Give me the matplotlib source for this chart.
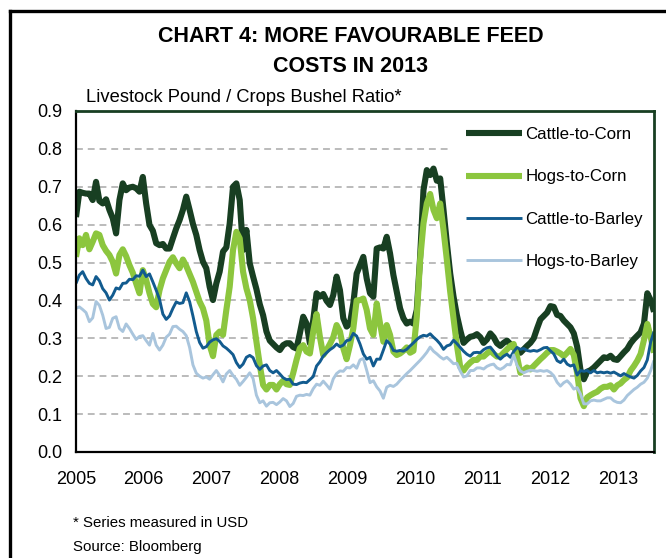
import matplotlib
matplotlib.use('Agg')
import matplotlib.pyplot as plt
import pandas as pd
from matplotlib.patches import Rectangle
from matplotlib.lines import Line2D

plt.rcParams['font.family'] = ['Liberation Sans', 'DejaVu Sans']

# ---------------- data ----------------
dates = pd.date_range('2005-01-01', periods=174, freq='18D')

series_names = ['Cattle-to-Corn', 'Hogs-to-Corn', 'Cattle-to-Barley', 'Hogs-to-Barley']

cattle_corn = [
    0.620, 0.687, 0.684, 0.682, 0.682, 0.665, 0.713, 0.663, 0.656, 0.667,
    0.639, 0.617, 0.577, 0.665, 0.709, 0.691, 0.698, 0.700, 0.696, 0.687,
    0.726, 0.656, 0.599, 0.584, 0.551, 0.546, 0.549, 0.537, 0.537, 0.564,
    0.590, 0.612, 0.639, 0.674, 0.639, 0.602, 0.573, 0.533, 0.502, 0.485,
    0.436, 0.401, 0.445, 0.476, 0.529, 0.540, 0.603, 0.700, 0.709, 0.665,
    0.533, 0.586, 0.498, 0.463, 0.430, 0.390, 0.361, 0.318, 0.294, 0.285,
    0.276, 0.269, 0.282, 0.287, 0.287, 0.277, 0.273, 0.313, 0.357, 0.339,
    0.287, 0.348, 0.419, 0.410, 0.417, 0.399, 0.388, 0.414, 0.463, 0.427,
    0.353, 0.331, 0.339, 0.392, 0.471, 0.493, 0.515, 0.458, 0.419, 0.410,
    0.537, 0.540, 0.537, 0.568, 0.524, 0.467, 0.423, 0.379, 0.353, 0.339,
    0.344, 0.339, 0.375, 0.515, 0.691, 0.744, 0.731, 0.748, 0.716, 0.722,
    0.639, 0.551, 0.471, 0.410, 0.361, 0.322, 0.288, 0.297, 0.304, 0.306,
    0.311, 0.303, 0.288, 0.297, 0.313, 0.303, 0.287, 0.280, 0.288, 0.294,
    0.285, 0.276, 0.267, 0.262, 0.271, 0.280, 0.288, 0.300, 0.326, 0.350,
    0.359, 0.368, 0.385, 0.383, 0.362, 0.359, 0.347, 0.338, 0.329, 0.313,
    0.278, 0.216, 0.192, 0.212, 0.216, 0.223, 0.232, 0.241, 0.250, 0.248,
    0.254, 0.245, 0.243, 0.253, 0.263, 0.272, 0.287, 0.298, 0.307, 0.316,
    0.339, 0.419, 0.401, 0.370,
]

hogs_corn = [
    0.515, 0.564, 0.546, 0.573, 0.535, 0.555, 0.577, 0.573, 0.546, 0.531,
    0.520, 0.502, 0.471, 0.520, 0.535, 0.517, 0.493, 0.473, 0.445, 0.419,
    0.480, 0.454, 0.419, 0.391, 0.382, 0.427, 0.458, 0.480, 0.502, 0.514,
    0.498, 0.485, 0.508, 0.491, 0.470, 0.449, 0.423, 0.397, 0.379, 0.347,
    0.282, 0.253, 0.309, 0.318, 0.309, 0.375, 0.436, 0.533, 0.581, 0.564,
    0.476, 0.432, 0.401, 0.353, 0.291, 0.230, 0.177, 0.165, 0.177, 0.177,
    0.165, 0.179, 0.188, 0.179, 0.177, 0.208, 0.243, 0.274, 0.282, 0.265,
    0.260, 0.318, 0.364, 0.304, 0.256, 0.269, 0.285, 0.303, 0.335, 0.318,
    0.274, 0.245, 0.282, 0.326, 0.400, 0.401, 0.405, 0.375, 0.326, 0.309,
    0.392, 0.339, 0.291, 0.335, 0.309, 0.265, 0.256, 0.260, 0.267, 0.276,
    0.262, 0.267, 0.357, 0.507, 0.603, 0.656, 0.681, 0.639, 0.617, 0.656,
    0.586, 0.507, 0.423, 0.353, 0.282, 0.225, 0.215, 0.227, 0.236, 0.243,
    0.243, 0.252, 0.252, 0.260, 0.267, 0.259, 0.252, 0.253, 0.262, 0.271,
    0.280, 0.285, 0.252, 0.209, 0.216, 0.223, 0.218, 0.227, 0.236, 0.245,
    0.253, 0.262, 0.269, 0.269, 0.265, 0.260, 0.253, 0.262, 0.272, 0.256,
    0.208, 0.142, 0.121, 0.144, 0.150, 0.155, 0.159, 0.167, 0.172, 0.172,
    0.176, 0.165, 0.176, 0.181, 0.190, 0.197, 0.215, 0.227, 0.241, 0.259,
    0.296, 0.338, 0.304, 0.262,
]

cattle_barley = [
    0.445, 0.467, 0.476, 0.458, 0.445, 0.441, 0.463, 0.452, 0.431, 0.420,
    0.401, 0.414, 0.433, 0.430, 0.445, 0.446, 0.456, 0.455, 0.465, 0.464,
    0.480, 0.463, 0.470, 0.449, 0.427, 0.403, 0.364, 0.350, 0.359, 0.379,
    0.396, 0.392, 0.394, 0.420, 0.397, 0.359, 0.318, 0.289, 0.274, 0.278,
    0.290, 0.296, 0.299, 0.292, 0.280, 0.274, 0.266, 0.257, 0.236, 0.223,
    0.232, 0.250, 0.255, 0.249, 0.228, 0.218, 0.227, 0.230, 0.215, 0.209,
    0.215, 0.206, 0.196, 0.191, 0.192, 0.179, 0.178, 0.182, 0.184, 0.183,
    0.191, 0.199, 0.227, 0.238, 0.253, 0.262, 0.270, 0.276, 0.285, 0.278,
    0.282, 0.294, 0.296, 0.313, 0.306, 0.285, 0.259, 0.245, 0.250, 0.227,
    0.245, 0.245, 0.269, 0.294, 0.285, 0.268, 0.266, 0.268, 0.266, 0.271,
    0.280, 0.288, 0.297, 0.304, 0.308, 0.306, 0.312, 0.303, 0.295, 0.285,
    0.271, 0.280, 0.283, 0.295, 0.286, 0.276, 0.266, 0.258, 0.253, 0.262,
    0.263, 0.262, 0.270, 0.275, 0.277, 0.266, 0.253, 0.245, 0.253, 0.258,
    0.250, 0.265, 0.276, 0.271, 0.273, 0.268, 0.266, 0.268, 0.266, 0.270,
    0.275, 0.276, 0.267, 0.259, 0.241, 0.236, 0.245, 0.232, 0.227, 0.230,
    0.203, 0.215, 0.213, 0.215, 0.209, 0.215, 0.209, 0.211, 0.209, 0.211,
    0.208, 0.211, 0.206, 0.201, 0.207, 0.202, 0.198, 0.195, 0.202, 0.214,
    0.223, 0.243, 0.290, 0.318,
]

hogs_barley = [
    0.379, 0.383, 0.376, 0.368, 0.344, 0.354, 0.397, 0.387, 0.361, 0.326,
    0.329, 0.353, 0.357, 0.326, 0.318, 0.338, 0.326, 0.311, 0.297, 0.305,
    0.307, 0.294, 0.282, 0.313, 0.282, 0.269, 0.282, 0.303, 0.311, 0.331,
    0.332, 0.324, 0.318, 0.307, 0.276, 0.230, 0.208, 0.200, 0.195, 0.198,
    0.192, 0.204, 0.215, 0.202, 0.185, 0.206, 0.215, 0.202, 0.192, 0.176,
    0.186, 0.197, 0.209, 0.194, 0.150, 0.130, 0.135, 0.121, 0.130, 0.131,
    0.125, 0.132, 0.141, 0.135, 0.120, 0.128, 0.147, 0.150, 0.149, 0.152,
    0.150, 0.167, 0.179, 0.176, 0.187, 0.177, 0.166, 0.193, 0.207, 0.214,
    0.213, 0.223, 0.222, 0.230, 0.221, 0.243, 0.247, 0.216, 0.183, 0.188,
    0.172, 0.161, 0.142, 0.171, 0.176, 0.173, 0.179, 0.189, 0.198, 0.207,
    0.215, 0.224, 0.233, 0.242, 0.252, 0.263, 0.277, 0.266, 0.259, 0.251,
    0.245, 0.250, 0.242, 0.233, 0.234, 0.214, 0.198, 0.201, 0.215, 0.215,
    0.222, 0.222, 0.219, 0.226, 0.230, 0.232, 0.222, 0.218, 0.223, 0.231,
    0.230, 0.256, 0.229, 0.214, 0.209, 0.213, 0.216, 0.215, 0.213, 0.215,
    0.213, 0.215, 0.210, 0.201, 0.184, 0.174, 0.183, 0.188, 0.179, 0.166,
    0.170, 0.153, 0.127, 0.127, 0.135, 0.137, 0.135, 0.135, 0.139, 0.143,
    0.143, 0.135, 0.131, 0.130, 0.137, 0.149, 0.157, 0.165, 0.171, 0.179,
    0.184, 0.195, 0.215, 0.242,
]

year_labels = ['2005', '2006', '2007', '2008', '2009', '2010', '2011', '2012', '2013']
y_ticks = [0.0, 0.1, 0.2, 0.3, 0.4, 0.5, 0.6, 0.7, 0.8, 0.9]

# ---------------- styling ----------------
colors = ['#183f22', '#8cc63e', '#125b8f', '#a9c5dd']
widths = [4.4, 4.4, 2.1, 2.1]
W, H = 666, 558

fig = plt.figure(figsize=(W / 100, H / 100), dpi=100)
ax = fig.add_axes([76 / W, 1 - 452 / H, 578 / W, 341 / H])

all_series = [cattle_corn, hogs_corn, cattle_barley, hogs_barley]
handles = []
for name, vals, c, lw in zip(series_names, all_series, colors, widths):
    ln, = ax.plot(dates, vals, color=c, lw=lw, solid_joinstyle='round',
                  solid_capstyle='butt', label=name, zorder=2)
    handles.append(ln)

ax.set_xlim(dates[0], dates[-1])
ax.set_ylim(0, 0.9)
ax.set_yticks(y_ticks)
ax.set_yticklabels([f'{v:.1f}' for v in y_ticks])
ax.set_xticks([pd.Timestamp(f'{y}-01-01') for y in year_labels])
ax.set_xticklabels(year_labels)
ax.tick_params(axis='both', length=0, labelsize=13, colors='black')
ax.tick_params(axis='y', pad=10)
ax.tick_params(axis='x', pad=14)

ax.set_axisbelow(True)
ax.yaxis.grid(True, color='#a8a8a8', lw=1.1, linestyle=(0, (4.5, 3.2)))
ax.xaxis.grid(False)

for side in ['left', 'bottom']:
    ax.spines[side].set_color('black')
    ax.spines[side].set_linewidth(1.6)
for side in ['top', 'right']:
    ax.spines[side].set_color('#183f22')
    ax.spines[side].set_linewidth(2.0)

# white legend area hiding the grid
ax.add_patch(Rectangle((0.6505, 0.504), 0.3495, 0.496, transform=ax.transAxes,
                       facecolor='white', edgecolor='none', zorder=1))

ax.legend(handles=handles, loc='upper left', bbox_to_anchor=(0.675, 0.952),
          frameon=False, fontsize=12.2, handlelength=3.3, handletextpad=0.2,
          labelspacing=1.6, borderpad=0, borderaxespad=0)

# outer frame (cut at the right and bottom of the picture)
fig.add_artist(Line2D([10 / W, 1.0], [1 - 11 / H, 1 - 11 / H],
                      transform=fig.transFigure, color='black', lw=2.4))
fig.add_artist(Line2D([10 / W, 10 / W], [0.0, 1 - 11 / H],
                      transform=fig.transFigure, color='black', lw=2.4))

fig.text(351 / W, 1 - 37 / H, 'CHART 4: MORE FAVOURABLE FEED', ha='center',
         va='center', fontsize=15.5, fontweight='bold')
fig.text(351 / W, 1 - 66 / H, 'COSTS IN 2013', ha='center', va='center',
         fontsize=15.5, fontweight='bold')
fig.text(86 / W, 1 - 97 / H, 'Livestock Pound / Crops Bushel Ratio*', ha='left',
         va='center', fontsize=13.2)
fig.text(73 / W, 1 - 523 / H, '* Series measured in USD', ha='left', va='center',
         fontsize=10.8)
fig.text(73 / W, 1 - 547 / H, 'Source: Bloomberg', ha='left', va='center',
         fontsize=10.8)

fig.savefig('out.png', dpi=100)
